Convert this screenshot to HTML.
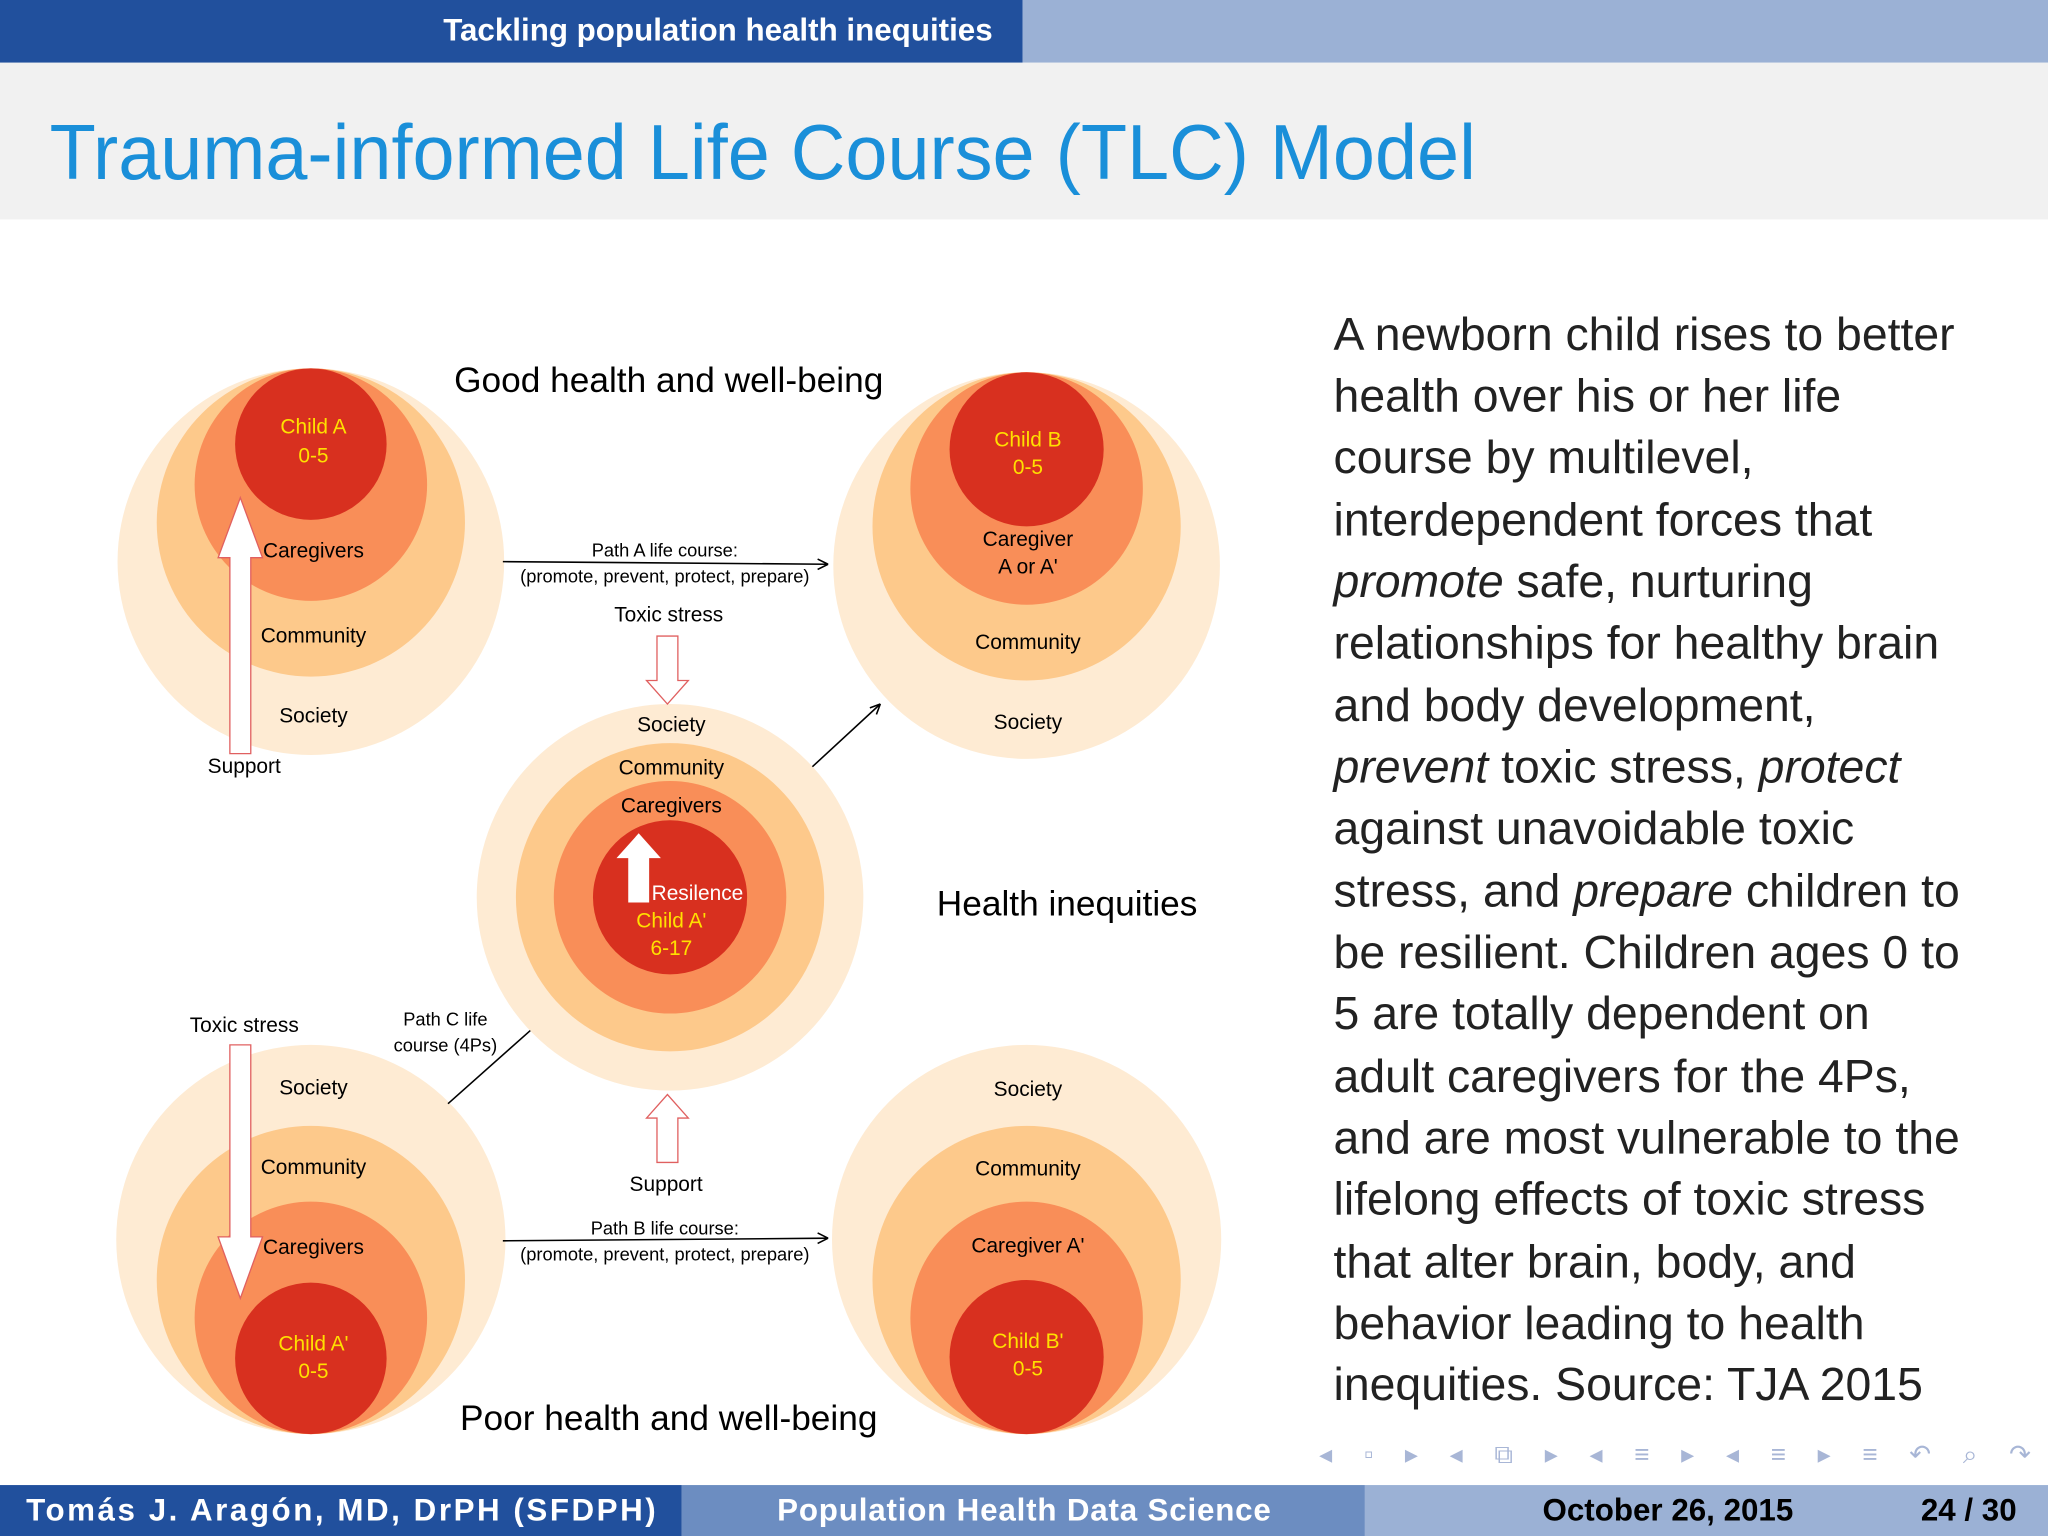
<!DOCTYPE html>
<html><head><meta charset="utf-8"><style>
html,body{margin:0;padding:0;background:#fff}
svg{display:block}
text{font-family:"Liberation Sans",sans-serif}
</style></head><body>
<svg width="2048" height="1536" viewBox="0 0 1568 1176" xmlns="http://www.w3.org/2000/svg">
<rect x="0" y="0" width="783" height="48" fill="#21509d"/>
<rect x="783" y="0" width="785" height="48" fill="#9bb1d5"/>
<text x="760" y="31" text-anchor="end" font-size="24" font-weight="bold" fill="#fff">Tackling population health inequities</text>
<rect x="0" y="48" width="1568" height="120" fill="#f1f1f1"/>
<text x="38" y="137" font-size="60" fill="#1a8fd9" textLength="1092" lengthAdjust="spacingAndGlyphs">Trauma-informed Life Course (TLC) Model</text>

<g>
<g>
<circle cx="238" cy="430" r="148" fill="#feebd3"/><circle cx="238" cy="400" r="118" fill="#fdc98b"/><circle cx="238" cy="371" r="89" fill="#f98e58"/><circle cx="238" cy="340" r="58" fill="#d8301f"/>
<text x="240" y="332" font-size="16" fill="#ffe000" text-anchor="middle">Child A</text><text x="240" y="354" font-size="16" fill="#ffe000" text-anchor="middle">0-5</text>
<text x="240" y="427" font-size="16" text-anchor="middle">Caregivers</text><text x="240" y="492" font-size="16" text-anchor="middle">Community</text><text x="240" y="553" font-size="16" text-anchor="middle">Society</text>
</g>
<path d="M176,577 V427 H167 L184,381 L201,427 H192 V577 Z" fill="#fff" stroke="#e06060" stroke-width="1"/>
<text x="187" y="592" font-size="16" text-anchor="middle">Support</text>
<g>
<circle cx="786" cy="433" r="148" fill="#feebd3"/><circle cx="786" cy="403" r="118" fill="#fdc98b"/><circle cx="786" cy="374" r="89" fill="#f98e58"/><circle cx="786" cy="344" r="59" fill="#d8301f"/>
<text x="787" y="342" font-size="16" fill="#ffe000" text-anchor="middle">Child B</text><text x="787" y="363" font-size="16" fill="#ffe000" text-anchor="middle">0-5</text>
<text x="787" y="418" font-size="16" text-anchor="middle">Caregiver</text><text x="787" y="439" font-size="16" text-anchor="middle">A or A'</text>
<text x="787" y="497" font-size="16" text-anchor="middle">Community</text><text x="787" y="558" font-size="16" text-anchor="middle">Society</text>
</g>
<g>
<circle cx="513" cy="687" r="148" fill="#feebd3"/><circle cx="513" cy="687" r="118" fill="#fdc98b"/><circle cx="513" cy="687" r="89" fill="#f98e58"/><circle cx="513" cy="687" r="59" fill="#d8301f"/>
<text x="514" y="560" font-size="16" text-anchor="middle">Society</text><text x="514" y="593" font-size="16" text-anchor="middle">Community</text><text x="514" y="622" font-size="16" text-anchor="middle">Caregivers</text>
<path d="M481,691 V657 H472 L489,638 L506,657 H497 V691 Z" fill="#fff"/>
<text x="534" y="689" font-size="16" fill="#fff" text-anchor="middle">Resilence</text>
<text x="514" y="710" font-size="16" fill="#ffe000" text-anchor="middle">Child A'</text><text x="514" y="731" font-size="16" fill="#ffe000" text-anchor="middle">6-17</text>
</g>
<g>
<circle cx="238" cy="949" r="149" fill="#feebd3"/><circle cx="238" cy="980" r="118" fill="#fdc98b"/><circle cx="238" cy="1009" r="89" fill="#f98e58"/><circle cx="238" cy="1040" r="58" fill="#d8301f"/>
<text x="240" y="838" font-size="16" text-anchor="middle">Society</text><text x="240" y="899" font-size="16" text-anchor="middle">Community</text><text x="240" y="960" font-size="16" text-anchor="middle">Caregivers</text>
<text x="240" y="1034" font-size="16" fill="#ffe000" text-anchor="middle">Child A'</text><text x="240" y="1055" font-size="16" fill="#ffe000" text-anchor="middle">0-5</text>
</g>
<path d="M176,800 V947 H167 L184,994 L201,947 H192 V800 Z" fill="#fff" stroke="#e06060" stroke-width="1"/>
<text x="187" y="790" font-size="16" text-anchor="middle">Toxic stress</text>
<g>
<circle cx="786" cy="949" r="149" fill="#feebd3"/><circle cx="786" cy="980" r="118" fill="#fdc98b"/><circle cx="786" cy="1009" r="89" fill="#f98e58"/><circle cx="786" cy="1039" r="59" fill="#d8301f"/>
<text x="787" y="839" font-size="16" text-anchor="middle">Society</text><text x="787" y="900" font-size="16" text-anchor="middle">Community</text><text x="787" y="959" font-size="16" text-anchor="middle">Caregiver A'</text>
<text x="787" y="1032" font-size="16" fill="#ffe000" text-anchor="middle">Child B'</text><text x="787" y="1053" font-size="16" fill="#ffe000" text-anchor="middle">0-5</text>
</g>
<text x="512" y="300" font-size="27" text-anchor="middle">Good health and well-being</text>
<text x="512" y="1095" font-size="27" text-anchor="middle">Poor health and well-being</text>
<text x="817" y="701" font-size="27" text-anchor="middle">Health inequities</text>
<line x1="385" y1="430" x2="634" y2="432" stroke="#000" stroke-width="1.2"/><path d="M634,432 l-8,-4 M634,432 l-8,4" stroke="#000" stroke-width="1.2"/>
<text x="509" y="426" font-size="14" text-anchor="middle">Path A life course:</text><text x="509" y="446" font-size="14" text-anchor="middle">(promote, prevent, protect, prepare)</text>
<line x1="385" y1="950" x2="634" y2="948" stroke="#000" stroke-width="1.2"/><path d="M634,948 l-8,-4 M634,948 l-8,4" stroke="#000" stroke-width="1.2"/>
<text x="509" y="945" font-size="14" text-anchor="middle">Path B life course:</text><text x="509" y="965" font-size="14" text-anchor="middle">(promote, prevent, protect, prepare)</text>
<text x="512" y="476" font-size="16" text-anchor="middle">Toxic stress</text>
<path d="M503,487 H519 V521 H527 L511,539 L495,521 H503 Z" fill="#fff" stroke="#e06060"/>
<path d="M503,890 H519 V856 H527 L511,838 L495,856 H503 Z" fill="#fff" stroke="#e06060"/>
<text x="510" y="912" font-size="16" text-anchor="middle">Support</text>
<line x1="622" y1="587" x2="674" y2="539" stroke="#000" stroke-width="1.2"/><path d="M674,539 l-3,8 M674,539 l-8,3" stroke="#000" stroke-width="1.2"/>
<line x1="343" y1="845" x2="406" y2="789" stroke="#000" stroke-width="1.2"/>
<text x="341" y="785" font-size="14" text-anchor="middle">Path C life</text><text x="341" y="805" font-size="14" text-anchor="middle">course (4Ps)</text>
</g>

<g font-size="35.5" fill="#222">
<text x="1021" y="268">A newborn child rises to better</text>
<text x="1021" y="315">health over his or her life</text>
<text x="1021" y="362">course by multilevel,</text>
<text x="1021" y="410">interdependent forces that</text>
<text x="1021" y="457"><tspan font-style="italic">promote</tspan> safe, nurturing</text>
<text x="1021" y="504">relationships for healthy brain</text>
<text x="1021" y="552">and body development,</text>
<text x="1021" y="599"><tspan font-style="italic">prevent</tspan> toxic stress, <tspan font-style="italic">protect</tspan></text>
<text x="1021" y="646">against unavoidable toxic</text>
<text x="1021" y="694">stress, and <tspan font-style="italic">prepare</tspan> children to</text>
<text x="1021" y="741">be resilient.  Children ages 0 to</text>
<text x="1021" y="788">5 are totally dependent on</text>
<text x="1021" y="836">adult caregivers for the 4Ps,</text>
<text x="1021" y="883">and are most vulnerable to the</text>
<text x="1021" y="930">lifelong effects of toxic stress</text>
<text x="1021" y="978">that alter brain, body, and</text>
<text x="1021" y="1025">behavior leading to health</text>
<text x="1021" y="1072">inequities.  Source:  TJA 2015</text>
</g>

<g fill="#a8b6d6" font-size="20">
<text x="1010" y="1120" textLength="545" lengthAdjust="spacing">◂ ▫ ▸  ◂ ⧉ ▸  ◂ ≡ ▸  ◂ ≡ ▸    ≡    ↶ ⌕ ↷</text>
</g>

<rect x="0" y="1137" width="522" height="39" fill="#21509d"/>
<rect x="522" y="1137" width="523" height="39" fill="#6c8dc1"/>
<rect x="1045" y="1137" width="523" height="39" fill="#9bb1d5"/>
<text x="20" y="1164" font-size="24" font-weight="bold" fill="#fff" textLength="482" lengthAdjust="spacing">Tomás J. Aragón, MD, DrPH  (SFDPH)</text>
<text x="595" y="1164" font-size="24" font-weight="bold" fill="#fff" textLength="378" lengthAdjust="spacing">Population Health Data Science</text>
<text x="1181" y="1164" font-size="24" font-weight="bold" fill="#000">October 26, 2015</text>
<text x="1544" y="1164" font-size="24" font-weight="bold" fill="#000" text-anchor="end">24 / 30</text>
</svg>
</body></html>
